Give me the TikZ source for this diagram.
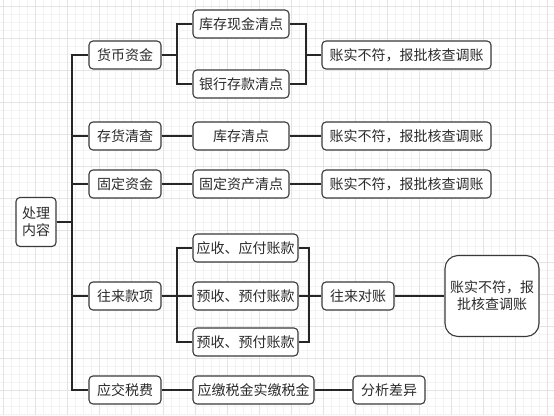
\documentclass[tikz,border=0pt]{standalone}
\usepackage{fontspec}
\setmainfont{Noto Sans CJK SC}
\usepackage{xcolor}
\definecolor{gridlight}{HTML}{F3F3F3}
\definecolor{gridmajor}{HTML}{E4E4E4}
\definecolor{boxline}{HTML}{3A3A3A}
\definecolor{txt}{HTML}{2B2B2B}
\tikzset{
  box/.style={draw=boxline,line width=1.1pt,fill=white,rounded corners=4pt,text=txt,
    font=\fontsize{14}{17}\selectfont,inner sep=0pt,minimum height=28pt},
  bigbox/.style={box,rounded corners=13pt,align=center},
  link/.style={line width=1.6pt,black!85}
}

\begin{document}
\begin{tikzpicture}[x=1pt,y=-1pt]
\useasboundingbox (0,0) rectangle (554,415);
\fill[white] (0,0) rectangle (554,415);
\draw[gridlight,line width=0.4pt,step=8pt,shift={(3pt,-6.5pt)}] (-3,-6.5) grid (551,408.5);
\draw[gridmajor,line width=0.5pt,step=32pt,shift={(3pt,-6.5pt)}] (-3,-6.5) grid (551,408.5);

\node[box,minimum width=40pt,minimum height=49pt,align=center] (root) at (36,222) {处理\\内容};

\node[box,minimum width=72pt] (cash) at (125,55) {货币资金};
\node[box,minimum width=72pt] (stock) at (125,136) {存货清查};
\node[box,minimum width=72pt] (fixed) at (125,184) {固定资金};
\node[box,minimum width=72pt] (deal) at (125,296) {往来款项};
\node[box,minimum width=72pt] (tax) at (125,390) {应交税费};

\node[box,minimum width=96pt] (cashA) at (241,24) {库存现金清点};
\node[box,minimum width=96pt] (cashB) at (241,84) {银行存款清点};
\node[box,minimum width=96pt] (stockA) at (241,136) {库存清点};
\node[box,minimum width=96pt] (fixedA) at (241,184) {固定资产清点};
\node[box,minimum width=105pt] (dealA) at (245.5,248) {应收、应付账款};
\node[box,minimum width=105pt] (dealB) at (245.5,296) {预收、预付账款};
\node[box,minimum width=105pt] (dealC) at (245.5,342) {预收、预付账款};
\node[box,minimum width=121pt] (taxA) at (253.5,390) {应缴税金实缴税金};

\node[box,minimum width=169pt] (cashR) at (406.5,55) {账实不符，报批核查调账};
\node[box,minimum width=169pt] (stockR) at (406.5,136) {账实不符，报批核查调账};
\node[box,minimum width=169pt] (fixedR) at (406.5,184) {账实不符，报批核查调账};
\node[box,minimum width=72pt] (check) at (358,296) {往来对账};
\node[bigbox,minimum width=94pt,minimum height=81pt] (dealR) at (492,296) {账实不符，报\\批核查调账};
\node[box,minimum width=72pt] (taxR) at (389,390) {分析差异};

\coordinate (trunk) at (72,0);
\coordinate (forkA) at (177,0);
\coordinate (joinA) at (306,0);
\coordinate (joinB) at (309,0);

\draw[link] (root.east) -- (trunk |- root.east);
\draw[link] (cash.west) -- (trunk |- cash.west) -- (trunk |- tax.west) -- (tax.west);
\draw[link] (trunk |- stock.west) -- (stock.west);
\draw[link] (trunk |- fixed.west) -- (fixed.west);
\draw[link] (trunk |- deal.west) -- (deal.west);

\draw[link] (cash.east) -- (forkA |- cash.east);
\draw[link] (cashA.west) -- (forkA |- cashA.west) -- (forkA |- cashB.west) -- (cashB.west);
\draw[link] (cashA.east) -- (joinA |- cashA.east) -- (joinA |- cashB.east) -- (cashB.east);
\draw[link] (joinA |- cashR.west) -- (cashR.west);

\draw[link] (stock) -- (stockA) -- (stockR);
\draw[link] (fixed) -- (fixedA) -- (fixedR);

\draw[link] (deal.east) -- (forkA |- deal.east);
\draw[link] (dealA.west) -- (forkA |- dealA.west) -- (forkA |- dealC.west) -- (dealC.west);
\draw[link] (forkA |- dealB.west) -- (dealB.west);
\draw[link] (dealA.east) -- (joinB |- dealA.east) -- (joinB |- dealC.east) -- (dealC.east);
\draw[link] (dealB.east) -- (joinB |- dealB.east);
\draw[link] (joinB |- check.west) -- (check.west);
\draw[link] (check) -- (dealR);

\draw[link] (tax) -- (taxA) -- (taxR);
\end{tikzpicture}
\end{document}
